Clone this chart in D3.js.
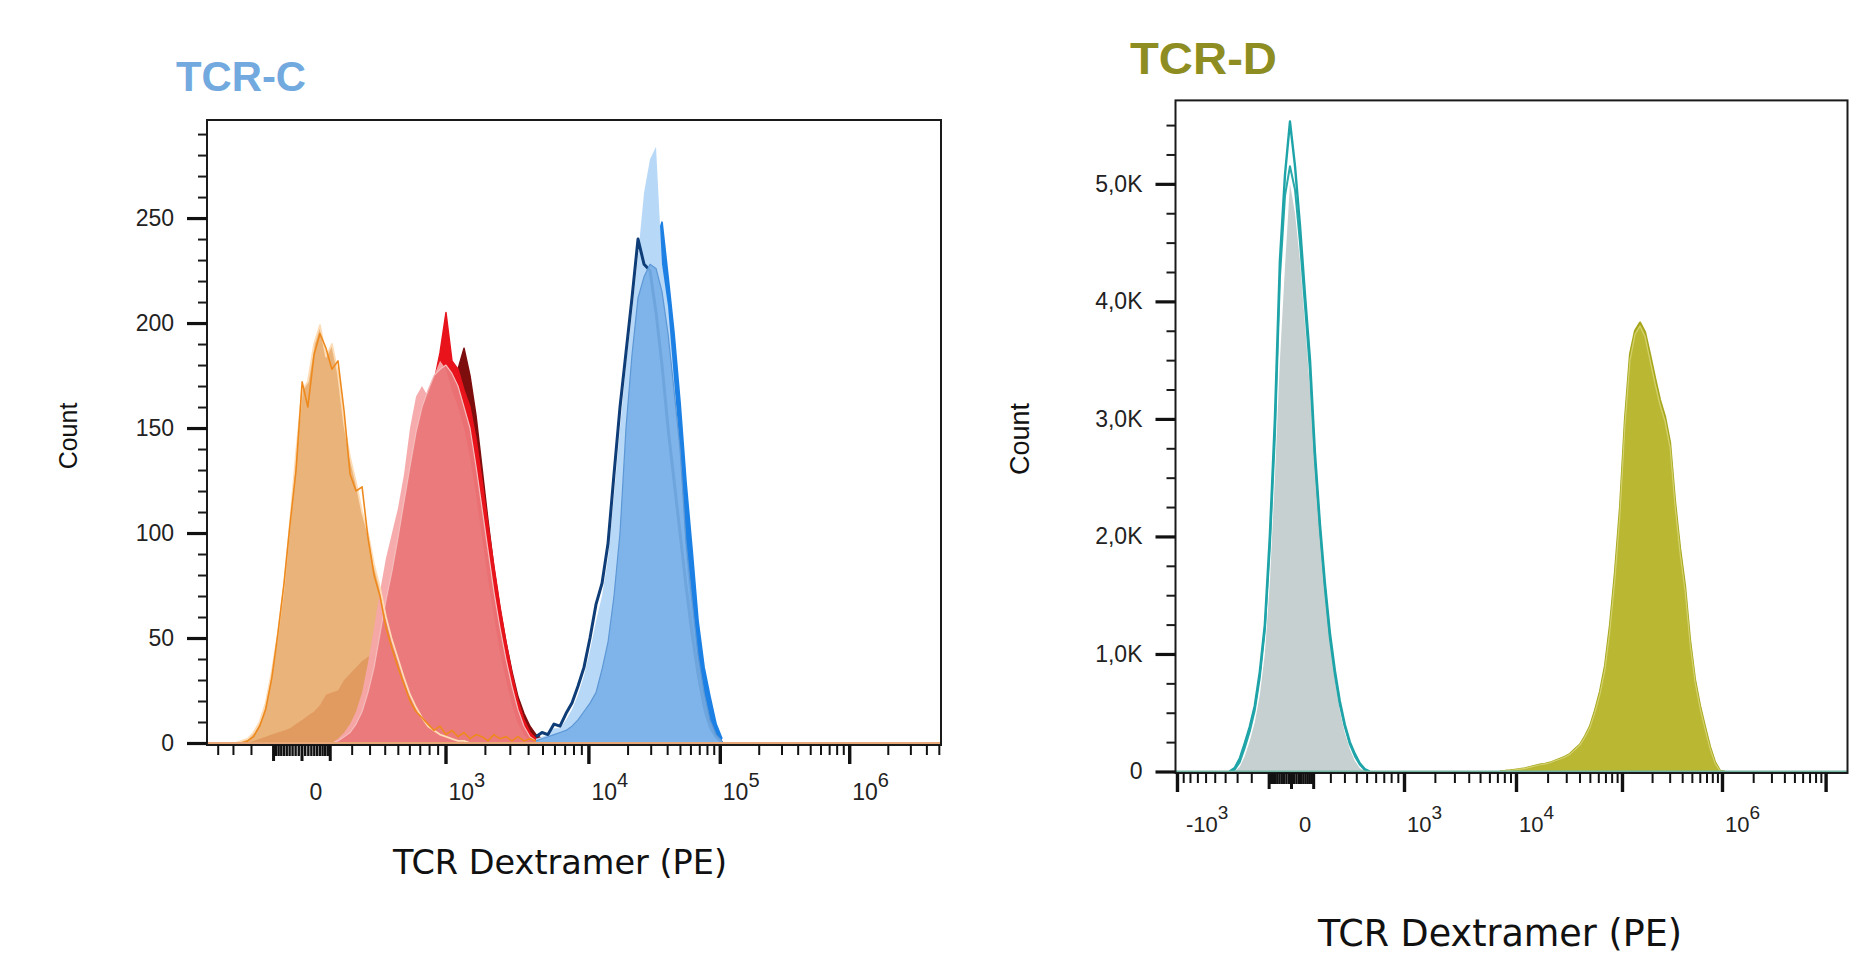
<!DOCTYPE html>
<html>
<head>
<meta charset="utf-8">
<script src="https://cdn.jsdelivr.net/npm/d3@7"></script>
<style>
  body { margin: 0; background: #fff; }
  svg { display: block; }
</style>
</head>
<body>
<svg id="chart" width="1875" height="955"></svg>
<script>
// ---------- data ----------
// TCR-C, PE fluorescence bin centres shared by the orange and red histograms
const gridOR = [-321, -285, -250, -217, -187, -158, -131, -105, -81, -58, -37, -17, 2, 20, 41, 62, 85, 109,
  135, 163, 192, 223, 256, 290, 328, 367, 409, 454, 502, 552, 606, 663, 723, 788, 857, 930, 1009, 1128,
  1258, 1400, 1554, 1722, 1906, 2106, 2324, 2562, 2822, 3106, 3415, 3752, 4120, 4521, 4959];
const orangeFill = [0, 0, 1, 2, 5, 10, 19, 34, 52, 75, 105, 138, 168, 172, 190, 199, 184, 190, 176, 152, 136,
  124, 110, 100, 85, 74, 60, 49, 40, 31, 23, 17, 12, 8, 6, 4, 3, 2, 1, 1, 0, 0, 0, 0, 0, 0, 0, 0, 0, 0, 0, 0, 0];
const orangeLine = [0, 0, 0, 1, 3, 8, 16, 31, 52, 76, 104, 130, 172, 160, 185, 195, 188, 178, 182, 158, 128,
  120, 122, 98, 80, 70, 55, 45, 36, 28, 20, 15, 12, 9, 6, 8, 4, 6, 3, 5, 2, 4, 3, 1, 4, 2, 3, 1, 3, 1, 2, 1, 0];
const orangeBroad = [0, 0, 0, 0, 1, 2, 3, 4, 5, 6, 7, 9, 11, 13, 15, 18, 23, 24, 25, 30, 33, 36, 39, 41, 43,
  42, 40, 37, 33, 29, 24, 19, 15, 11, 8, 5, 4, 2, 1, 0, 0, 0, 0, 0, 0, 0, 0, 0, 0, 0, 0, 0, 0];
const redPink = [0, 0, 0, 0, 0, 0, 0, 0, 0, 0, 0, 0, 0, 0, 0, 0, 0, 0, 2, 5, 9, 15, 24, 38, 55, 72, 88, 100,
  112, 128, 150, 165, 170, 165, 175, 182, 178, 168, 160, 150, 136, 118, 98, 78, 60, 43, 30, 18, 9, 4, 1, 0, 0];
const redFill = [0, 0, 0, 0, 0, 0, 0, 0, 0, 0, 0, 0, 0, 0, 0, 0, 0, 0, 1, 3, 5, 9, 15, 24, 36, 52, 68, 82,
  98, 115, 132, 148, 160, 168, 175, 178, 180, 176, 170, 160, 150, 132, 112, 92, 72, 55, 40, 27, 16, 8, 3, 1, 0];
const redBright = [0, 0, 0, 0, 0, 0, 0, 0, 0, 0, 0, 0, 0, 0, 0, 0, 0, 0, 0, 2, 4, 8, 13, 21, 32, 47, 62, 78,
  95, 112, 128, 142, 155, 163, 172, 186, 205, 182, 178, 168, 160, 145, 125, 104, 84, 65, 48, 33, 20, 11, 5, 2, 0];
const redDark = [0, 0, 0, 0, 0, 0, 0, 0, 0, 0, 0, 0, 0, 0, 0, 0, 0, 0, 0, 0, 1, 3, 6, 11, 18, 28, 40, 55,
  70, 88, 106, 124, 140, 152, 162, 170, 176, 180, 178, 188, 175, 156, 131, 106, 83, 64, 48, 34, 22, 14, 8, 4, 2];

// TCR-C, blue histograms
const gridBlue = [4521, 4959, 5436, 5957, 6525, 7144, 7819, 8556, 9360, 10290, 11448, 12735, 14166, 15750,
  17508, 19458, 21624, 24024, 26694, 29646, 32928, 36564, 40620, 45090, 50070, 55560, 61710, 68490, 76050,
  84390, 93690, 104000];
const blueLight = [2, 3, 4, 7, 7, 11, 16, 23, 32, 44, 58, 70, 88, 118, 150, 180, 205, 232, 262, 278, 284, 228,
  208, 173, 139, 88, 55, 29, 14, 6, 2, 0];
const blueFill = [1, 2, 3, 4, 5, 6, 8, 11, 15, 19, 24, 35, 48, 70, 100, 150, 185, 212, 222, 228, 226, 215,
  195, 168, 140, 96, 68, 42, 24, 11, 4, 1];
const blueNavy = [3, 5, 4, 9, 8, 14, 19, 27, 36, 50, 66, 76, 95, 128, 160, 186, 212, 240, 228, 225, 205, 180,
  150, 125, 100, 75, 52, 33, 18, 8, 3, 0];
const blueBright = [0, 1, 1, 2, 3, 4, 6, 8, 11, 15, 20, 28, 40, 58, 85, 120, 160, 200, 222, 232, 238, 248,
  222, 195, 162, 124, 92, 58, 36, 22, 9, 2];

// TCR-D, grey/teal histograms
const gridGray = [-361, -319, -280, -244, -210, -178, -148, -120, -94, -69, -46, -24, -4, 16, 37, 60, 84,
  109, 137, 166, 197, 230, 265, 303, 344, 387, 432, 481, 533];
const grayFill = [0, 0, 40, 130, 260, 420, 650, 1000, 1600, 2500, 3500, 4300, 5000, 4750, 4350, 3800, 3250,
  2600, 2000, 1500, 1100, 780, 520, 330, 190, 90, 30, 5, 0];
const tealA = [0, 30, 110, 240, 380, 560, 850, 1250, 2000, 3000, 4350, 5080, 5530, 5150, 4650, 4050, 3500,
  2720, 2100, 1600, 1180, 860, 600, 400, 250, 150, 70, 20, 0];
const tealB = [0, 15, 80, 200, 340, 520, 800, 1200, 1900, 2850, 4200, 4900, 5150, 4950, 4500, 3950, 3400,
  2650, 2050, 1550, 1130, 820, 570, 380, 230, 130, 60, 15, 0];

// TCR-D, olive histograms
const gridOlive = [7365, 8106, 8919, 9813, 10922, 12198, 13617, 15190, 16953, 18906, 21081, 23508, 26202,
  29208, 32550, 36270, 40410, 45030, 50190, 55920, 62280, 69360, 77280, 86070, 95880, 107190, 120330, 135000,
  151500, 169950, 190740, 214020, 240180, 269400, 302340, 339120, 380610, 426930, 479100, 537420, 603150,
  676500, 759300, 851700, 955800, 1069200];
const oliveFill = [3, 6, 10, 15, 20, 28, 38, 48, 58, 66, 75, 92, 108, 125, 150, 190, 230, 300, 385, 520, 680,
  900, 1250, 1700, 2250, 3000, 3550, 3750, 3820, 3740, 3550, 3350, 3160, 3020, 2800, 2300, 1900, 1580, 1120,
  780, 560, 380, 210, 80, 5, 0];
const oliveLine = [2, 5, 9, 14, 19, 26, 36, 46, 56, 64, 73, 90, 105, 122, 146, 185, 225, 292, 375, 505, 660,
  870, 1210, 1650, 2200, 2950, 3500, 3720, 3790, 3700, 3500, 3300, 3120, 2980, 2760, 2260, 1860, 1540, 1090,
  760, 540, 360, 195, 70, 3, 0];

// axis ticks
const leftYTicks = [0, 50, 100, 150, 200, 250];
const rightYTicks = [0, 1000, 2000, 3000, 4000, 5000];
const leftXLabels = [0, 1e3, 1e4, 1e5, 1e6];
const rightXLabels = [-1e3, 0, 1e3, 1e4, 1e6];

// ---------- drawing ----------
const svg = d3.select('#chart');

// biexponential-like transform of the FlowJo axis
const T = v => Math.sign(v) * Math.log10(1 + Math.abs(v) / 300);

function xTickSets(min, max) {
  const major = [], minor = [], mid = [0, 100, -100], blob = [];
  for (let n = 3; n <= 7; n++) {
    [1, -1].forEach(s => { const v = s * Math.pow(10, n); if (v >= min && v <= max) major.push(v); });
  }
  for (let n = 2; n <= 6; n++) {
    for (let k = 2; k <= 9; k++) {
      [1, -1].forEach(s => { const v = s * k * Math.pow(10, n); if (v >= min && v <= max) minor.push(v); });
    }
  }
  for (let k = 1; k <= 9; k++) { blob.push(k * 10, -k * 10); }
  return { major, minor, mid, blob };
}

function drawPanel(p) {
  const g = svg.append('g');
  const xs = d3.scaleLinear().domain(p.xAnchors.map(T)).range(p.xRange);
  const x = v => xs(T(v));
  const y = d3.scaleLinear().domain([0, p.yMax]).range([p.zeroY, p.top]);

  const clipId = 'clip-' + p.id;
  svg.append('clipPath').attr('id', clipId)
    .append('rect')
    .attr('x', p.left).attr('y', p.top)
    .attr('width', p.right - p.left).attr('height', p.bottom - p.top);

  const plot = g.append('g').attr('clip-path', `url(#${clipId})`);
  const area = d3.area().x(d => x(d[0])).y0(y(0)).y1(d => y(d[1]));
  const line = d3.line().x(d => x(d[0])).y(d => y(d[1]));

  p.layers.forEach(l => {
    const pts = d3.zip(l.grid, l.counts);
    if (l.fill) {
      plot.append('path').datum(pts)
        .attr('d', area)
        .attr('fill', l.fill)
        .attr('fill-opacity', l.opacity || 1);
    }
    if (l.stroke) {
      plot.append('path').datum(pts)
        .attr('d', line)
        .attr('fill', 'none')
        .attr('stroke', l.stroke)
        .attr('stroke-opacity', l.strokeOpacity || 1)
        .attr('stroke-width', l.width || 1.5)
        .attr('stroke-linejoin', 'round');
    }
  });

  // histogram baseline
  plot.append('line')
    .attr('x1', p.left).attr('x2', p.right)
    .attr('y1', y(0)).attr('y2', y(0))
    .attr('stroke', p.baseColor).attr('stroke-width', 2);

  // frame
  g.append('rect')
    .attr('x', p.left).attr('y', p.top)
    .attr('width', p.right - p.left).attr('height', p.bottom - p.top)
    .attr('fill', 'none').attr('stroke', '#1a1a1a').attr('stroke-width', 2);

  // y axis
  const yMinor = d3.range(0, p.yMax, p.yMinorStep).filter(v => p.yTicks.indexOf(v) < 0);
  const yg1 = g.append('g').attr('transform', `translate(${p.left},0)`)
    .call(d3.axisLeft(y).tickValues(yMinor).tickSize(9).tickFormat(''));
  const yg2 = g.append('g').attr('transform', `translate(${p.left},0)`)
    .call(d3.axisLeft(y).tickValues(p.yTicks).tickSize(20).tickPadding(13).tickFormat(p.yFormat));
  [yg1, yg2].forEach(a => a.select('.domain').remove());
  yg1.selectAll('line').attr('stroke', '#1a1a1a').attr('stroke-width', 2);
  yg2.selectAll('line').attr('stroke', '#111').attr('stroke-width', 3.2);
  yg2.selectAll('text')
    .attr('font-family', 'Liberation Sans, Arial, sans-serif')
    .attr('font-size', p.tickFont)
    .attr('fill', '#222');

  // x axis
  const tk = xTickSets(p.xAnchors[0], p.xAnchors[p.xAnchors.length - 1]);
  const xAxisAt = sel => sel.attr('transform', `translate(0,${p.bottom})`);
  const sets = [
    { v: tk.blob, size: 11, w: 2.4 },
    { v: tk.minor, size: 10, w: 2 },
    { v: tk.mid, size: 16, w: 3 },
    { v: tk.major, size: 19, w: 3.4 }
  ];
  sets.forEach(s => {
    const a = g.append('g').call(xAxisAt)
      .call(d3.axisBottom(xs).tickValues(s.v.map(T)).tickSize(s.size).tickFormat(''));
    a.select('.domain').remove();
    a.selectAll('line').attr('stroke', '#111').attr('stroke-width', s.w);
  });

  const labels = g.append('g')
    .attr('font-family', 'Liberation Sans, Arial, sans-serif')
    .attr('fill', '#222');
  p.xLabels.forEach(v => {
    const t = labels.append('text')
      .attr('y', p.bottom + p.xLabelDy)
      .attr('font-size', p.xTickFont);
    if (v === 0) {
      t.attr('x', x(v) + 8).text('0');
    } else {
      const e = Math.round(Math.log10(Math.abs(v)));
      t.attr('x', x(v) + (v < 0 ? 9 : 3));
      t.append('tspan').text(v < 0 ? '-10' : '10');
      t.append('tspan').attr('dy', -13).attr('font-size', p.xTickFont - 3).text(e);
    }
  });

  // axis titles
  g.append('text')
    .attr('transform', `translate(${p.yTitle[0]},${p.yTitle[1]}) rotate(-90)`)
    .attr('text-anchor', 'middle')
    .attr('dominant-baseline', 'central')
    .attr('font-family', 'Liberation Sans, Arial, sans-serif')
    .attr('font-size', p.yTitleFont)
    .attr('fill', '#111')
    .text('Count');
  g.append('text')
    .attr('x', p.xTitle[0]).attr('y', p.xTitle[1])
    .attr('text-anchor', 'middle')
    .attr('font-family', 'DejaVu Sans, Verdana, sans-serif')
    .attr('font-size', p.xTitleFont)
    .attr('fill', '#111')
    .text('TCR Dextramer (PE)');

  g.append('text')
    .attr('x', p.title.x).attr('y', p.title.y)
    .attr('font-family', 'Liberation Sans, Arial, sans-serif')
    .attr('font-weight', 'bold')
    .attr('font-size', p.title.size)
    .attr('textLength', p.title.len)
    .attr('lengthAdjust', 'spacingAndGlyphs')
    .attr('fill', p.title.color)
    .text(p.title.text);
}

drawPanel({
  id: 'c',
  left: 207, right: 941, top: 120, bottom: 745, zeroY: 743,
  xAnchors: [-480, 0, 1e3, 1e4, 1e5, 1e6, 5.2e6],
  xRange: [207, 301.5, 445.5, 588.4, 719.8, 849.2, 941],
  yMax: 296.7, yTicks: leftYTicks, yMinorStep: 10, yFormat: d3.format('d'),
  tickFont: 23, xTickFont: 23, xLabelDy: 55, xLabels: leftXLabels,
  yTitle: [68, 436], yTitleFont: 25,
  xTitle: [560, 874], xTitleFont: 33.5,
  baseColor: '#e9a878',
  title: { text: 'TCR-C', x: 176, y: 91, size: 42, len: 130, color: '#72a9de' },
  layers: [
    { grid: gridOR, counts: orangeFill, fill: '#eab37a' },
    { grid: gridOR, counts: orangeBroad, fill: '#d9864c', opacity: 0.55 },
    { grid: gridOR, counts: redDark, fill: '#7e0e0e', stroke: '#7e0e0e', width: 1.5 },
    { grid: gridOR, counts: redBright, fill: '#e8131b', stroke: '#e8131b', width: 1.5 },
    { grid: gridOR, counts: redPink, fill: '#f5a7a8', opacity: 0.95 },
    { grid: gridOR, counts: redFill, fill: '#e9777a', opacity: 0.93, stroke: '#f5bcbc', width: 1.2 },
    { grid: gridOR, counts: orangeFill, stroke: '#fddcb6', width: 1.8 },
    { grid: gridOR, counts: orangeLine, stroke: '#ee8a1d', width: 1.6 },
    { grid: gridBlue, counts: blueBright, fill: '#1c80e4', stroke: '#1c80e4', width: 1.8 },
    { grid: gridBlue, counts: blueLight, fill: '#b8d8f7' },
    { grid: gridBlue, counts: blueNavy, stroke: '#0e3d78', width: 3 },
    { grid: gridBlue, counts: blueFill, fill: '#79b0e8', opacity: 0.9, stroke: '#5c97d6', width: 1.2 }
  ]
});

drawPanel({
  id: 'd',
  left: 1175.5, right: 1847.5, top: 100.4, bottom: 773, zeroY: 771.5,
  xAnchors: [-1025, 0, 1e3, 1e4, 1e5, 1e6, 1e7, 1.61e7],
  xRange: [1175.5, 1291, 1404, 1516, 1622, 1722, 1825.6, 1847.5],
  yMax: 5710, yTicks: rightYTicks, yMinorStep: 250,
  yFormat: v => v === 0 ? '0' : (v / 1000).toFixed(1).replace('.', ',') + 'K',
  tickFont: 23, xTickFont: 22, xLabelDy: 59, xLabels: rightXLabels,
  yTitle: [1019.5, 439], yTitleFont: 27,
  xTitle: [1500, 946], xTitleFont: 36.5,
  baseColor: '#6fb3a0',
  title: { text: 'TCR-D', x: 1130, y: 74, size: 45, len: 147, color: '#8e8d22' },
  layers: [
    { grid: gridGray, counts: grayFill, fill: '#c7d0d0' },
    { grid: gridGray, counts: tealB, stroke: '#2aa9ab', width: 2 },
    { grid: gridGray, counts: tealA, stroke: '#1ea4a8', width: 2.4 },
    { grid: gridOlive, counts: oliveFill, fill: '#bab833', stroke: '#a7a61d', width: 2.2 },
    { grid: gridOlive, counts: oliveLine, stroke: '#d2d068', width: 1.4 }
  ]
});
</script>
</body>
</html>
